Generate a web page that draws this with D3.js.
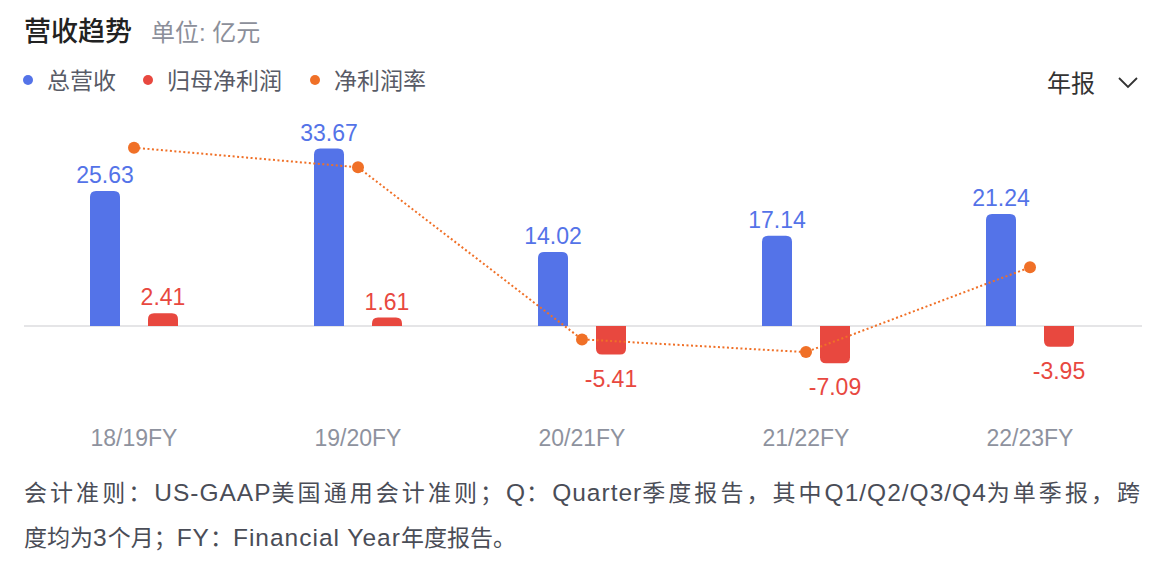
<!DOCTYPE html>
<html>
<head>
<meta charset="utf-8">
<script src="https://cdn.jsdelivr.net/npm/d3@7/dist/d3.min.js"></script>
<style>
  html, body { margin: 0; padding: 0; background: #fff; }
  svg { display: block; }
  text { font-family: "Liberation Sans", "Noto Sans CJK SC", sans-serif; }
</style>
</head>
<body>
<svg id="chart" width="1166" height="562"></svg>
<script>
// ---- data ----
const categories = ["18/19FY", "19/20FY", "20/21FY", "21/22FY", "22/23FY"];
const revenue = [25.63, 33.67, 14.02, 17.14, 21.24];
const netProfit = [2.41, 1.61, -5.41, -7.09, -3.95];
const netMargin = [9.41, 4.79, -35.8, -38.8, -18.8];
const legendLabels = ["总营收", "归母净利润", "净利润率"];
const footerLines = [
  "会计准则：US-GAAP美国通用会计准则；Q：Quarter季度报告，其中Q1/Q2/Q3/Q4为单季报，跨",
  "度均为3个月；FY：Financial Year年度报告。"
];

const colors = { rev: "#5473E8", profit: "#E8483F", margin: "#F07027" };

const svg = d3.select("#chart");

// ---- scales ----
const x = d3.scaleBand().domain(categories).range([22, 1142]);
const y = d3.scaleLinear().domain([-10, 40]).range([378.7, 115.2]);
const y2 = d3.scaleLinear().domain([-40, 10]).range([357.2, 145.2]);
const barW = 30, off = 29, r = 6;

// ---- title ----
svg.append("text").attr("x", 24).attr("y", 41)
  .attr("font-size", 27).attr("font-weight", 500).attr("fill", "#222")
  .text("营收趋势");
svg.append("text").attr("x", 151).attr("y", 41)
  .attr("font-size", 24).attr("fill", "#8c8f9a")
  .text("单位: 亿元");

// ---- legend ----
const legendX = [28, 148, 315];
const legendColors = [colors.rev, colors.profit, colors.margin];
legendLabels.forEach((l, i) => {
  svg.append("circle").attr("cx", legendX[i]).attr("cy", 80).attr("r", 5).attr("fill", legendColors[i]);
  svg.append("text").attr("x", legendX[i] + 19).attr("y", 89)
    .attr("font-size", 23).attr("fill", "#585b66").text(l);
});

// ---- dropdown ----
svg.append("text").attr("x", 1047).attr("y", 92)
  .attr("font-size", 24).attr("fill", "#333").text("年报");
svg.append("polyline").attr("points", "1119,78 1128,87 1137,78")
  .attr("fill", "none").attr("stroke", "#333").attr("stroke-width", 1.8);

// ---- zero axis ----
svg.append("line").attr("x1", 24).attr("x2", 1142).attr("y1", y(0)).attr("y2", y(0))
  .attr("stroke", "#e5e5e7").attr("stroke-width", 2);

// rounded-end bar path
function barPath(cx, v) {
  const x0 = cx - barW / 2, x1 = cx + barW / 2;
  const y0 = y(0), yv = y(v);
  const h = Math.abs(y0 - yv);
  const rr = Math.min(r, h);
  if (v >= 0) {
    return `M${x0},${y0} V${yv + rr} Q${x0},${yv} ${x0 + rr},${yv} H${x1 - rr} Q${x1},${yv} ${x1},${yv + rr} V${y0} Z`;
  } else {
    return `M${x0},${y0} V${yv - rr} Q${x0},${yv} ${x0 + rr},${yv} H${x1 - rr} Q${x1},${yv} ${x1},${yv - rr} V${y0} Z`;
  }
}

const cx = c => x(c) + x.bandwidth() / 2;

// revenue bars
svg.append("g").selectAll("path").data(categories).join("path")
  .attr("d", (c, i) => barPath(cx(c) - off, revenue[i]))
  .attr("fill", colors.rev);
// profit bars
svg.append("g").selectAll("path").data(categories).join("path")
  .attr("d", (c, i) => barPath(cx(c) + off, netProfit[i]))
  .attr("fill", colors.profit);

// value labels
svg.append("g").selectAll("text").data(categories).join("text")
  .attr("x", c => cx(c) - off).attr("y", (c, i) => y(revenue[i]) - 8)
  .attr("text-anchor", "middle").attr("font-size", 23).attr("fill", colors.rev)
  .text((c, i) => revenue[i].toFixed(2));
svg.append("g").selectAll("text").data(categories).join("text")
  .attr("x", c => cx(c) + off)
  .attr("y", (c, i) => netProfit[i] >= 0 ? y(netProfit[i]) - 8 : y(netProfit[i]) + 32)
  .attr("text-anchor", "middle").attr("font-size", 23).attr("fill", colors.profit)
  .text((c, i) => netProfit[i].toFixed(2));

// margin line
const line = d3.line().x((d, i) => cx(categories[i])).y(d => y2(d));
svg.append("path").datum(netMargin).attr("d", line)
  .attr("fill", "none").attr("stroke", colors.margin).attr("stroke-width", 2)
  .attr("stroke-dasharray", "2 2.5");
svg.append("g").selectAll("circle").data(netMargin).join("circle")
  .attr("cx", (d, i) => cx(categories[i])).attr("cy", d => y2(d)).attr("r", 6)
  .attr("fill", colors.margin);

// x axis labels
svg.append("g").selectAll("text").data(categories).join("text")
  .attr("x", c => cx(c)).attr("y", 446)
  .attr("text-anchor", "middle").attr("font-size", 23).attr("fill", "#8e929e")
  .text(c => c);

// footer: latin runs slightly larger, first line justified across CJK characters
footerLines.forEach((t, i) => {
  const el = svg.append("text").attr("x", 24).attr("y", 501 + i * 45)
    .attr("font-size", 23).attr("fill", "#4a4d57");
  const runs = t.match(/[A-Za-z0-9\/\-\s]+|[^A-Za-z0-9\/\-\s]+/g);
  const cjkSpans = [];
  let cjkCount = 0;
  runs.forEach(run => {
    const isLatin = /^[A-Za-z0-9\/\-\s]+$/.test(run);
    const sp = el.append("tspan").text(run);
    if (isLatin) sp.attr("font-size", 24.5).attr("letter-spacing", 1);
    else { cjkSpans.push(sp); cjkCount += run.length; }
  });
  if (i === 0) {
    const w0 = el.node().getComputedTextLength();
    const extra = (1116 - w0) / Math.max(1, cjkCount - 1);
    cjkSpans.forEach(sp => sp.attr("letter-spacing", extra));
  }
});
</script>
</body>
</html>
